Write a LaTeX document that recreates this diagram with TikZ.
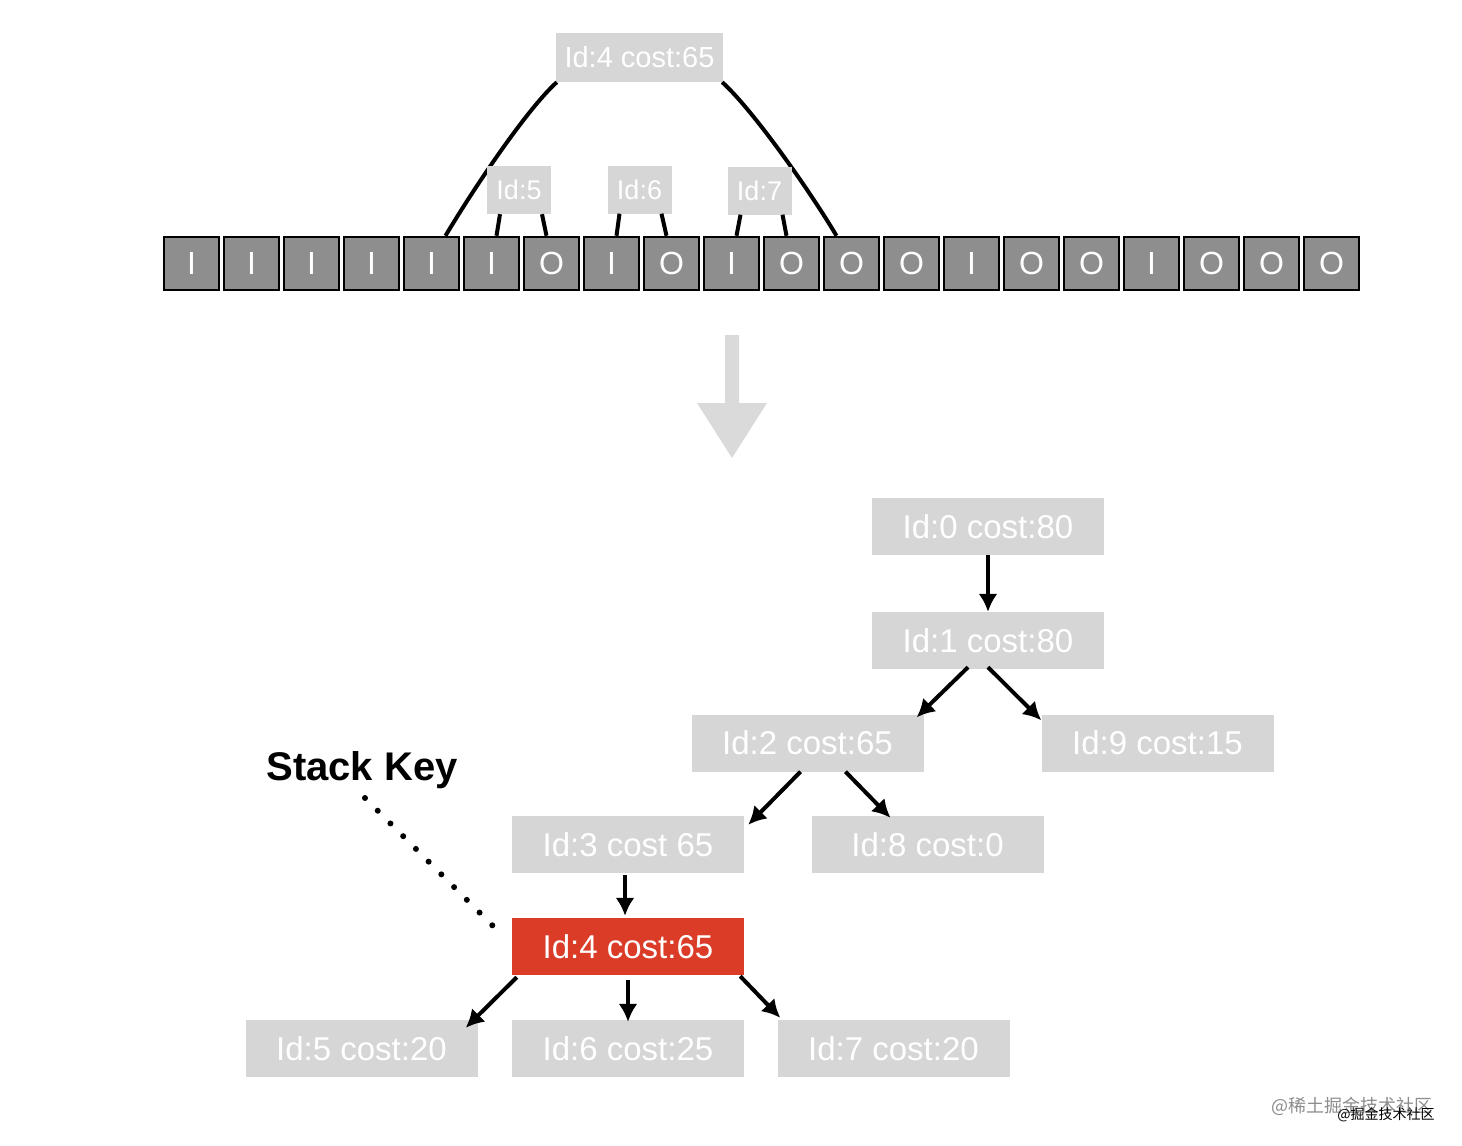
\documentclass[tikz,border=0pt]{standalone}
\usepackage{fontspec}
\setmainfont{Liberation Sans}
\newfontfamily\cjk{Noto Sans CJK SC}
\usetikzlibrary{arrows.meta}

\definecolor{boxgrey}{RGB}{214,214,214}
\definecolor{cellgrey}{RGB}{142,142,142}
\definecolor{keyred}{RGB}{218,60,40}
\definecolor{arrowgrey}{RGB}{218,218,218}

\begin{document}
\begin{tikzpicture}[x=1pt,y=-1pt,
    >={Latex[length=18pt,width=19pt]},
    cell/.style={draw, line width=2.5pt, fill=cellgrey, text=white, inner sep=0pt,
        minimum width=55pt, minimum height=53pt, font=\fontsize{32}{36}\selectfont},
    tag/.style={fill=boxgrey, text=white, inner sep=0pt,
        minimum width=64pt, minimum height=48pt, font=\fontsize{27}{30}\selectfont},
    costbox/.style={fill=boxgrey, text=white, inner sep=0pt,
        minimum width=232pt, minimum height=57pt, font=\fontsize{33}{36}\selectfont},
    stackbox/.style={costbox, fill=keyred},
    link/.style={line width=4pt}]

    \useasboundingbox (0,0) rectangle (1462,1146);

    % Array of cells
    \foreach \c [count=\i from 0] in {I,I,I,I,I,I,O,I,O,I,O,O,O,I,O,O,I,O,O,O}
        \node[cell] (c\i) at (191.5+60*\i, 263.5) {\c};

    % Span of the key
    \node[tag, minimum width=167pt, minimum height=49pt, font=\fontsize{29}{32}\selectfont] (top) at (639.5, 57.5) {Id:4 cost:65};
    \draw[link] ([xshift=1pt]top.south west) .. controls +(-30,27) and +(28,-47) .. ([xshift=14pt]c4.north);
    \draw[link] ([xshift=-1pt]top.south east) .. controls +(30,27) and +(-28,-47) .. ([xshift=-15pt]c11.north);

    % Children spans
    \node[tag] (s5) at (519, 190) {Id:5};
    \node[tag] (s6) at (639.5, 189.5) {Id:6};
    \node[tag] (s7) at (759.5, 190.5) {Id:7};
    \draw[link] ([xshift=-19pt]s5.south) -- ([xshift=5pt]c5.north);
    \draw[link] ([xshift=23pt]s5.south) -- ([xshift=-5pt]c6.north);
    \draw[link] ([xshift=-20pt]s6.south) -- ([xshift=5pt]c7.north);
    \draw[link] ([xshift=22pt]s6.south) -- ([xshift=-5pt]c8.north);
    \draw[link] ([xshift=-19pt]s7.south) -- ([xshift=5pt]c9.north);
    \draw[link] ([xshift=23pt]s7.south) -- ([xshift=-5pt]c10.north);

    % Big arrow
    \fill[arrowgrey] (725,335) -- (739,335) -- (739,403) -- (767,403) -- (732,458)
        -- (697,403) -- (725,403) -- cycle;

    % Tree
    \node[costbox] (n0) at (988, 526.5) {Id:0 cost:80};
    \node[costbox] (n1) at (988, 640.5) {Id:1 cost:80};
    \node[costbox] (n2) at (807.5, 743) {Id:2 cost:65};
    \node[costbox] (n9) at (1157.5, 743) {Id:9 cost:15};
    \node[costbox] (n3) at (628, 844.5) {Id:3 cost 65};
    \node[costbox] (n8) at (927.5, 844.5) {Id:8 cost:0};
    \node[stackbox] (n4) at (628, 946.5) {Id:4 cost:65};
    \node[costbox] (n5) at (361.5, 1048.5) {Id:5 cost:20};
    \node[costbox] (n6) at (628, 1048.5) {Id:6 cost:25};
    \node[costbox] (n7) at (893.5, 1048.5) {Id:7 cost:20};

    \draw[link,->] (n0.south) -- (n1.north);
    \draw[link,->] ([xshift=-20pt,yshift=2pt]n1.south) -- ([xshift=-7pt,yshift=-3pt]n2.north east);
    \draw[link,->] ([yshift=2pt]n1.south) -- ([yshift=-6pt]n9.north west);
    \draw[link,->] ([xshift=-7pt]n2.south) -- ([xshift=4pt,yshift=-9pt]n3.north east);
    \draw[link,->] ([xshift=38pt]n2.south) -- ([xshift=-37pt,yshift=-2pt]n8.north);
    \draw[link,->] ([xshift=-3pt,yshift=-2pt]n3.south) -- ([xshift=-3pt,yshift=2pt]n4.north);
    \draw[link,->] ([xshift=5pt,yshift=-2pt]n4.south west) -- ([xshift=-12pt,yshift=-8pt]n5.north east);
    \draw[link,->] ([yshift=-5pt]n4.south) -- ([yshift=-2pt]n6.north);
    \draw[link,->] ([xshift=-4pt,yshift=-1pt]n4.south east) -- ([xshift=3pt,yshift=2pt]n7.north west);

    % Stack key
    \node[font=\bfseries\fontsize{40}{44}\selectfont, inner sep=0pt] (key) at (362, 770) {Stack Key};
    \draw[line width=6pt, line cap=round, dash pattern=on 0pt off 18pt]
        ([xshift=3pt,yshift=-28pt]key.center) -- ([xshift=-18pt,yshift=-9pt]n4.north west);

    % Watermark
    \node[text=black!45, font=\cjk\fontsize{18}{20}\selectfont, inner sep=0pt] (mark) at (1352, 1106) {@稀土掘金技术社区};
    \node[font=\cjk\fontsize{14}{16}\selectfont, inner sep=0pt] (mark2) at (1386, 1115) {@掘金技术社区};
\end{tikzpicture}
\end{document}
